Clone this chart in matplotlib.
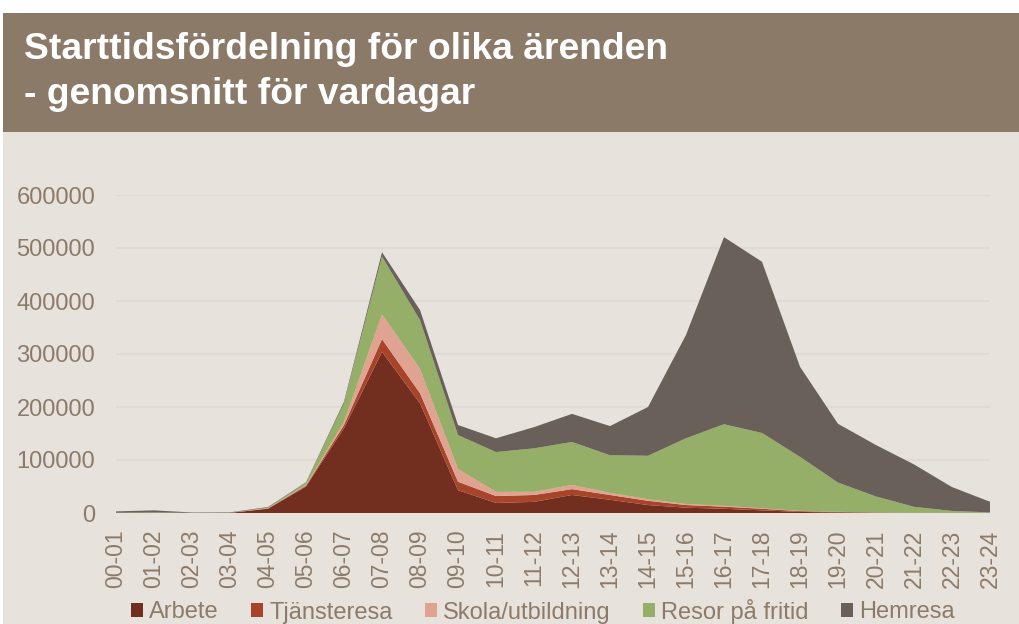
import matplotlib.pyplot as plt
import matplotlib
from matplotlib.patches import Rectangle, Patch

matplotlib.rcParams['font.family'] = ['Liberation Sans', 'DejaVu Sans']

timmar = ['00-01', '01-02', '02-03', '03-04', '04-05', '05-06', '06-07', '07-08',
          '08-09', '09-10', '10-11', '11-12', '12-13', '13-14', '14-15', '15-16',
          '16-17', '17-18', '18-19', '19-20', '20-21', '21-22', '22-23', '23-24']

arbete = [0, 0, 0, 300, 8000, 50000, 160000, 304000, 207000, 43000, 19000, 21000,
          34000, 25000, 15000, 10000, 8000, 5000, 2000, 1000, 500, 300, 200, 100]
tjansteresa = [0, 0, 0, 0, 500, 1500, 6000, 24000, 19000, 16000, 13000, 13000,
               11000, 9000, 8000, 5000, 4000, 3000, 1500, 1000, 500, 300, 200, 100]
skola = [0, 0, 0, 0, 300, 1500, 6000, 47000, 46000, 24000, 8000, 6000,
         8000, 4000, 3000, 2000, 1500, 1000, 500, 300, 200, 100, 0, 0]
fritid = [500, 1000, 300, 300, 1500, 4000, 35000, 109000, 92000, 64000, 75000, 82000,
          81000, 71000, 82000, 124000, 154000, 142000, 102000, 55000, 30000, 11000, 3500, 1000]
hemresa = [2500, 4000, 700, 700, 1000, 1000, 3000, 8000, 19000, 19000, 26000, 40000,
           53000, 55000, 92000, 195000, 353000, 323000, 170000, 111000, 97000, 80000, 45000, 20000]

serier = ['Arbete', 'Tjänsteresa', 'Skola/utbildning', 'Resor på fritid', 'Hemresa']
farger = ['#722E1E', '#A8442A', '#E0A391', '#95AE68', '#69605A']

textfarg = '#8C7B6A'
bakgrund = '#E8E2DC'

fig = plt.figure(figsize=(10.2, 6.24), dpi=100, facecolor='white')

# bakgrund och rubrikband
fig.patches.append(Rectangle((3 / 1020, 0), 1, 492 / 624, transform=fig.transFigure,
                             facecolor=bakgrund, edgecolor='none', zorder=-5))
fig.patches.append(Rectangle((3 / 1020, 492 / 624), 1, 119 / 624, transform=fig.transFigure,
                             facecolor='#8B7A68', edgecolor='none', zorder=-5))
fig.text(24 / 1020, 1 - 59 / 624, 'Starttidsfördelning för olika ärenden',
         color='white', fontsize=26.8, fontweight='bold', va='baseline', ha='left')
fig.text(24 / 1020, 1 - 104 / 624, '- genomsnitt för vardagar',
         color='white', fontsize=26.8, fontweight='bold', va='baseline', ha='left')

ax = fig.add_axes([116 / 1020, 111 / 624, 874 / 1020, 318 / 624])
ax.patch.set_visible(False)

x = list(range(len(timmar)))
ax.stackplot(x, arbete, tjansteresa, skola, fritid, hemresa, colors=farger,
             linewidth=0, zorder=2)

ax.set_xlim(0, len(timmar) - 1)
ax.set_ylim(0, 600000)
ax.set_yticks(range(0, 600001, 100000))
ax.set_yticklabels([str(v) for v in range(0, 600001, 100000)])
ax.set_xticks(x)
ax.set_xticklabels(timmar, rotation=90)
ax.tick_params(axis='y', length=0, pad=15, labelsize=17, labelcolor=textfarg)
ax.tick_params(axis='x', length=0, pad=12, labelsize=16.5, labelcolor=textfarg)
ax.grid(axis='y', color='#DEDBD6', linewidth=1.5, zorder=1)
ax.set_axisbelow(True)
for s in ax.spines.values():
    s.set_visible(False)

handtag = [Patch(facecolor=c, edgecolor='none', label=n) for c, n in zip(farger, serier)]
fig.legend(handles=handtag, loc='center', bbox_to_anchor=(543 / 1020, 13 / 624), ncol=5,
           frameon=False, fontsize=17, labelcolor=textfarg, handlelength=0.5,
           handleheight=0.5, handletextpad=0.25, columnspacing=1.39)

fig.savefig('out.png', dpi=100, facecolor='white')
